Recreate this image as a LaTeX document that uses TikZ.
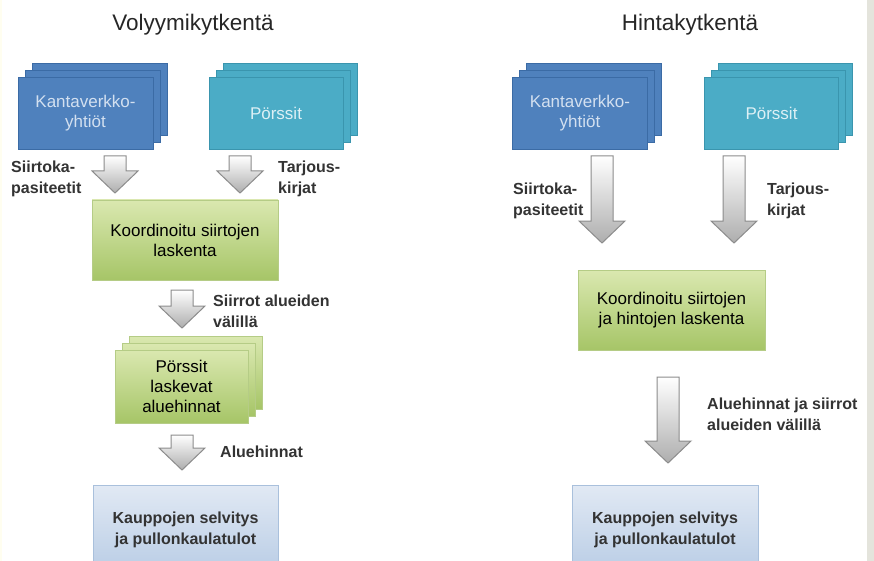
\documentclass[tikz,border=0pt]{standalone}
\usepackage{fontspec}
\setmainfont{Liberation Sans}
\usetikzlibrary{calc}
\definecolor{kvblue}{HTML}{4F81BD}
\definecolor{kvblueline}{HTML}{3B6BA5}
\definecolor{kvtext}{HTML}{D3E0F0}
\definecolor{teal1}{HTML}{4BACC6}
\definecolor{tealline}{HTML}{3A95AE}
\definecolor{tealtext}{HTML}{DDF0F5}
\definecolor{greentop}{HTML}{DAE8B0}
\definecolor{greenbot}{HTML}{A6C567}
\definecolor{greenline}{HTML}{B5CC86}
\definecolor{bluetop}{HTML}{E1E9F4}
\definecolor{bluebot}{HTML}{B8CCE5}
\definecolor{blueline}{HTML}{A9C0DC}
\definecolor{labeltext}{HTML}{333333}
\definecolor{arrowline}{HTML}{8C8C8C}
\definecolor{stripgray}{HTML}{E4E4DC}
\tikzset{
  basebox/.style={inner sep=0pt, align=center, line width=0.8pt},
  kvbox/.style={basebox, fill=kvblue, draw=kvblueline, minimum width=135pt, minimum height=72pt,
    text=kvtext, font=\fontsize{17}{20}\selectfont},
  tealbox/.style={basebox, fill=teal1, draw=tealline, minimum width=134pt, minimum height=72pt,
    text=tealtext, font=\fontsize{17}{20}\selectfont},
  greenbox/.style={basebox, top color=greentop, bottom color=greenbot, draw=greenline,
    text=black, font=\fontsize{17}{20}\selectfont},
  bluebox/.style={basebox, top color=bluetop, bottom color=bluebot, draw=blueline,
    text=labeltext, font=\bfseries\fontsize{16}{21}\selectfont},
  lbl/.style={anchor=west, align=left, inner sep=0pt, text=labeltext,
    font=\bfseries\fontsize{16}{21}\selectfont},
  ttl/.style={inner sep=0pt, text=black!85, font=\fontsize{22.5}{26}\selectfont},
  grayarrow/.style={draw=arrowline, line width=1pt, top color=white, bottom color=black!32, line join=miter},
}
\newcommand{\blockarrow}[2]{%
  \path[grayarrow] ($(#1)+(-11,0)$) -- ($(#1)+(11,0)$) -- ($(#2)+(11,-22)$) -- ($(#2)+(23,-22)$)
    -- (#2) -- ($(#2)+(-23,-22)$) -- ($(#2)+(-11,-22)$) -- cycle;}
% stack: name, x, y, style, text
\newcommand{\stackbox}[5]{%
  \node[#4] (#1-b2) at (#2+14,#3-14) {};
  \node[#4] (#1-b1) at (#2+7,#3-7) {};
  \node[#4] (#1) at (#2,#3) {#5};}
\begin{document}
\begin{tikzpicture}[x=1pt,y=-1pt]
\clip (0,0) rectangle (874,561);
\fill[white] (0,0) rectangle (874,561);
\fill[stripgray] (867,0) rectangle (874,561);
\fill[yellow!6] (0,0) rectangle (2,561);

% ---------- left panel ----------
\node[ttl] (t1) at (193,25) {Volyymikytkentä};
\stackbox{kv1}{85.5}{113}{kvbox}{Kantaverkko-\\yhtiöt}
\stackbox{pr1}{276}{113}{tealbox}{Pörssit}
\node[greenbox, minimum width=186pt, minimum height=80pt] (g1) at (185,240) {Koordinoitu siirtojen\\laskenta};
\stackbox{pl1}{181.5}{386.5}{greenbox, minimum width=133pt, minimum height=73pt}{Pörssit\\laskevat\\aluehinnat}
\node[bluebox, minimum width=185pt, minimum height=90pt] (k1) at (185.5,530) {Kauppojen selvitys\\ja pullonkaulatulot};

\coordinate (a1s) at (115,156); \coordinate (a1e) at (115,193);
\coordinate (a2s) at (240,156); \coordinate (a2e) at (240,193);
\coordinate (a3s) at (182,290); \coordinate (a3e) at (182,328);
\coordinate (a4s) at (182,435); \coordinate (a4e) at (182,470);
\blockarrow{a1s}{a1e}
\blockarrow{a2s}{a2e}
\blockarrow{a3s}{a3e}
\blockarrow{a4s}{a4e}
\node[lbl] (l1) at (11,179) {Siirtoka-\\pasiteetit};
\node[lbl] (l2) at (278,179) {Tarjous-\\kirjat};
\node[lbl] (l3) at (213,311) {Siirrot alueiden\\välillä};
\node[lbl] (l4) at (220,452) {Aluehinnat};

% ---------- right panel ----------
\node[ttl] (t2) at (690,25) {Hintakytkentä};
\stackbox{kv2}{580}{113}{kvbox}{Kantaverkko-\\yhtiöt}
\stackbox{pr2}{771.5}{113}{tealbox}{Pörssit}
\node[greenbox, minimum width=187pt, minimum height=80pt] (g2) at (671.5,310) {Koordinoitu siirtojen\\ja hintojen laskenta};
\node[bluebox, minimum width=186pt, minimum height=90pt] (k2) at (665,530) {Kauppojen selvitys\\ja pullonkaulatulot};

\coordinate (a5s) at (602,156); \coordinate (a5e) at (602,243);
\coordinate (a6s) at (734,156); \coordinate (a6e) at (734,243);
\coordinate (a7s) at (668,377); \coordinate (a7e) at (668,463);
\blockarrow{a5s}{a5e}
\blockarrow{a6s}{a6e}
\blockarrow{a7s}{a7e}
\node[lbl] (l5) at (513,201) {Siirtoka-\\pasiteetit};
\node[lbl] (l6) at (767,201) {Tarjous-\\kirjat};
\node[lbl] (l7) at (707,414) {Aluehinnat ja siirrot\\alueiden välillä};
\end{tikzpicture}
\end{document}
